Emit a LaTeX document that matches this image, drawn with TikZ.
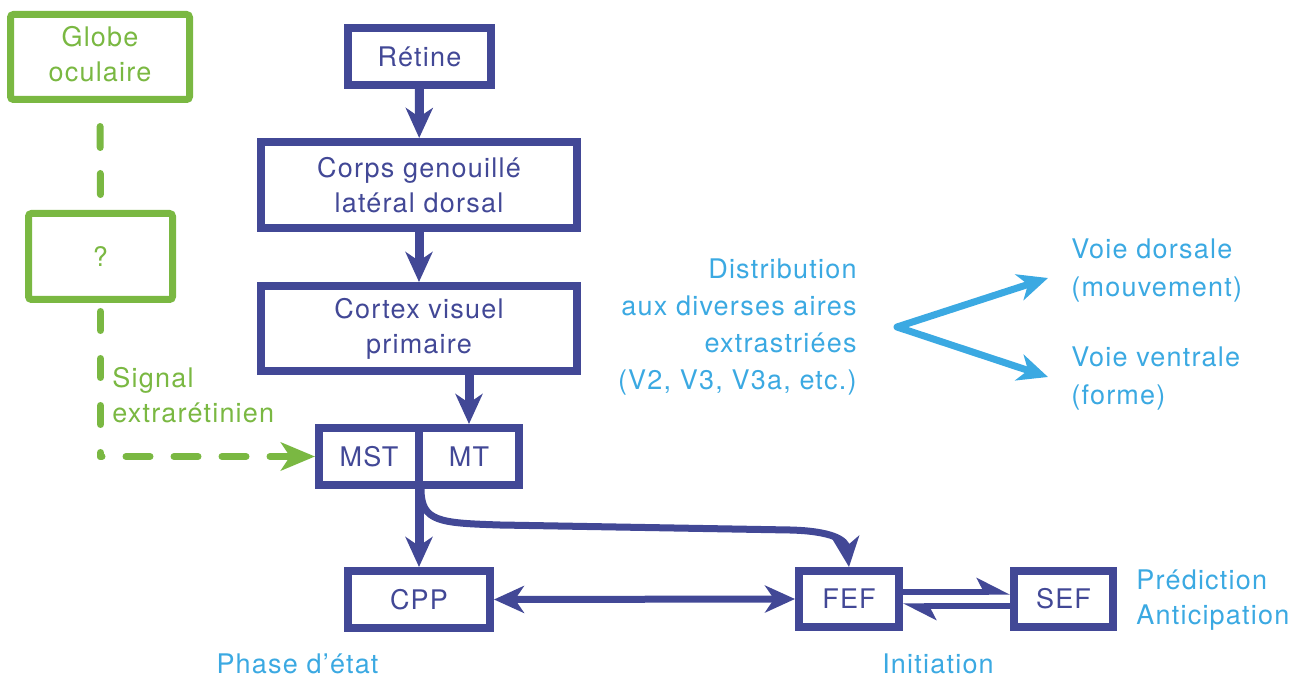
\documentclass[tikz,border=0pt]{standalone}
\usepackage{fontspec}
\setmainfont[LetterSpace=4.5]{TeX Gyre Heros}
\usetikzlibrary{arrows.meta,calc}
\definecolor{navy}{RGB}{66,72,150}
\definecolor{grn}{RGB}{122,184,66}
\definecolor{lblue}{RGB}{59,169,226}
\tikzset{
  mytip/.tip={Stealth[length=15pt,width=13.5pt,inset=4.5pt]},
  gtip/.tip={Stealth[length=17pt,width=14pt,inset=4.5pt]},
  htip/.tip={Stealth[harpoon,length=14pt,width=14pt,inset=3.5pt]},
}
\begin{document}
\begin{tikzpicture}[x=0.5pt,y=-0.5pt,
  every node/.style={font=\fontsize{13.5}{17.5}\selectfont},
  bbox/.style={draw=navy, line width=4pt, text=navy, inner sep=0pt, align=center},
  gbox/.style={draw=grn, line width=3.5pt, text=grn, inner sep=0pt, align=center, rounded corners=1.5pt},
  arr/.style={draw=navy, line width=4.5pt, -{mytip}},
  harp/.style={draw=navy, line width=3pt, -{htip}},
  gdash/.style={draw=grn, line width=3.5pt, line cap=round, line join=round},
  lbtext/.style={text=lblue, align=left, inner sep=0pt},
]
\useasboundingbox (0,0) rectangle (1308,679);

% green boxes
\node[gbox, minimum width=89.5pt, minimum height=42.5pt] (globe) at (100,57) {\raisebox{1.5pt}{\begin{tabular}{@{}c@{}}Globe\\[0pt]oculaire\end{tabular}}};
\node[gbox, minimum width=72pt, minimum height=43pt] (q) at (100.5,256.5) {?};

% blue boxes
\node[bbox, minimum width=71.5pt, minimum height=28.5pt] (retine) at (419.5,56.5) {Rétine};
\node[bbox, minimum width=158pt, minimum height=43pt] (cgl) at (419,185) {Corps genouillé\\latéral dorsal};
\node[bbox, minimum width=158pt, minimum height=42.5pt] (cortex) at (419,328.5) {Cortex visuel\\primaire};
\node[bbox, minimum width=50pt, minimum height=28.5pt] (mst) at (369,456.5) {MST};
\node[bbox, minimum width=50pt, minimum height=28.5pt] (mt) at (469,456.5) {MT};
\node[bbox, minimum width=71pt, minimum height=28.5pt] (cpp) at (419,599.5) {CPP};
\node[bbox, minimum width=50pt, minimum height=28pt] (fef) at (849,599) {FEF};
\node[bbox, minimum width=49.5pt, minimum height=28pt] (sef) at (1063.5,599) {SEF};

% texts
\node[text=grn, align=left, inner sep=0pt, anchor=west] (signal) at (112,395) {Signal\\extrarétinien};
\node[text=lblue, align=right, inner sep=0pt, anchor=east, font=\fontsize{13.5}{18.4}\selectfont] (distrib) at (857,327) {Distribution\\aux diverses aires\\extrastriées\\(V2, V3, V3a, etc.)};
\node[lbtext, anchor=west, font=\fontsize{13.5}{19}\selectfont] (dorsal) at (1071,271) {Voie dorsale\\(mouvement)};
\node[lbtext, anchor=west, font=\fontsize{13.5}{19}\selectfont] (ventral) at (1071,379) {Voie ventrale\\(forme)};
\node[lbtext, anchor=west] (pred) at (1136,600) {Prédiction\\Anticipation};
\node[lbtext] (phase) at (297.5,664) {Phase d’état};
\node[lbtext] (init) at (938,664) {Initiation};

% blue connectors
\draw[arr] (retine) -- (cgl);
\draw[arr] (cgl) -- (cortex);
\draw[arr] (cortex.south -| mt.north) -- (mt.north);
\draw[arr] (mst.south -| cpp.north) -- (cpp.north);
\draw[navy, line width=3.5pt, -{mytip}]
  ([xshift=1pt]mst.south -| cpp.north) .. controls (421,522) and (440,523) .. (500,525)
  -- (790,530) .. controls (832,531) and (846,540) .. (fef.north);
\draw[navy, line width=3.5pt, {mytip}-{mytip}] (cpp.east) -- (fef.west);
\draw[harp] ([yshift=3.5pt]fef.east) -- ([yshift=3.5pt]sef.west);
\draw[harp] ([yshift=-3.5pt]sef.west) -- ([yshift=-3.5pt]fef.east);

% green dashed connectors
\coordinate (gcorner) at (q.south |- mst.west);
\draw[gdash, dash pattern=on 10.5pt off 13pt, dash phase=11.75pt] (globe.south) -- (q.north);
\draw[gdash, dash pattern=on 9.5pt off 14pt, dash phase=19.25pt] (q.south) -- (gcorner);
\draw[gdash, dash pattern=on 12pt off 12pt, dash phase=11.25pt, -{gtip}] (gcorner) -- (mst.west);

% light blue V
\coordinate (vtx) at (897,327);
\coordinate (dtip) at (1048,278);
\coordinate (vtip) at (1048,377);
\draw[lblue, line width=3.5pt, line join=round, {mytip}-{mytip}] (dtip) -- (vtx) -- (vtip);
\end{tikzpicture}
\end{document}
